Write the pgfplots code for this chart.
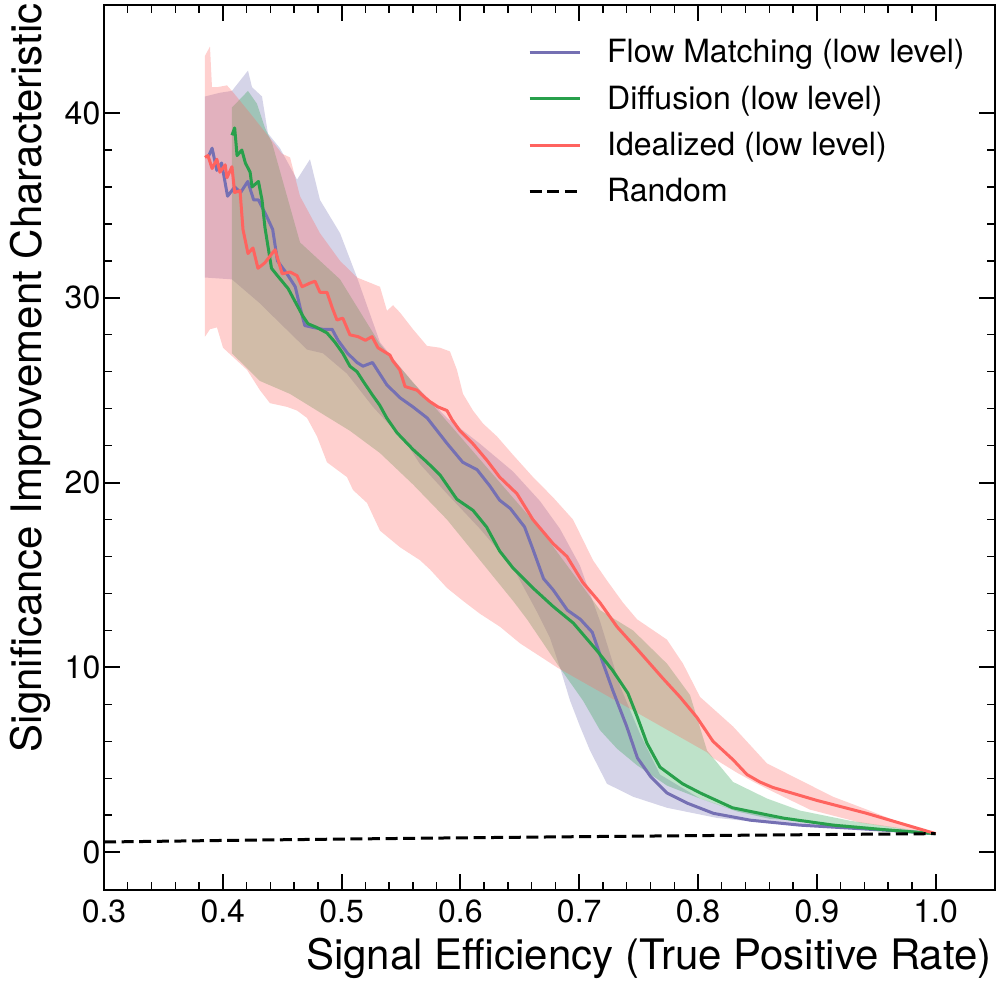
\documentclass[border=0pt]{standalone}
\usepackage{fontspec}
\setmainfont{TeX Gyre Heros}
\usepackage{pgfplots}
\pgfplotsset{compat=1.18}
\definecolor{fmc}{RGB}{117,112,179}
\definecolor{dfc}{RGB}{40,160,75}
\definecolor{idc}{RGB}{255,99,95}
\begin{document}
\begin{tikzpicture}
\begin{axis}[
 scale only axis, width=445.5pt, height=442.5pt,
 xmin=0.3, xmax=1.05, ymin=-2.05, ymax=45.85,
 xtick={0.3,0.4,0.5,0.6,0.7,0.8,0.9,1.0},
 xticklabels={0.3,0.4,0.5,0.6,0.7,0.8,0.9,1.0},
 ytick={0,10,20,30,40}, yticklabels={0,10,20,30,40},
 minor x tick num=4, minor y tick num=4,
 tick align=inside, tick pos=both,
 major tick length=8pt, minor tick length=4pt,
 major tick style={line width=1pt,black},
 minor tick style={line width=0.7pt,black},
 axis line style={line width=1.4pt},
 tick label style={font=\fontsize{16}{19}\selectfont},
 yticklabel style={xshift=1.7pt},
 xticklabel style={yshift=-1.2pt},
 label style={font=\fontsize{21}{25}\selectfont},
 xlabel={Signal Efficiency (True Positive Rate)},
 ylabel={Significance Improvement Characteristic},
 xlabel style={at={(ticklabel cs:1)}, anchor=north east, inner xsep=0pt, xshift=-1.5pt, yshift=-1pt},
 ylabel style={at={(ticklabel cs:1)}, anchor=south east, inner xsep=0pt, xshift=1pt},
 legend style={draw=none, fill=none, at={(rel axis cs:1,1)}, anchor=north east, xshift=-13pt, yshift=-15pt, font=\fontsize{16}{19}\selectfont, row sep=6pt, inner sep=0pt},
 legend cell align=left,
 legend image code/.code={\draw[#1] (0pt,0pt) -- (25pt,0pt); \path (36pt,0pt);},
]
% ---- bands ----
\addplot[forget plot, draw=none, fill=fmc, fill opacity=0.3] coordinates {
(0.385,40.9)(0.3976,41.1)(0.4077,41.2)(0.4212,42.3)(0.4246,41.4)(0.433,40.9)(0.438,38.9)(0.4481,38.1)(0.4625,36.4)(0.4734,37.5)(0.4818,35.3)(0.4987,33.5)(0.513,31.1)(0.5323,27.6)(0.5601,25.4)(0.5887,23.5)(0.6165,22.1)(0.6443,20.6)(0.667,19.0)(0.6838,17.5)(0.7007,15.5)(0.7175,12.5)(0.7343,9.0)(0.7512,6.4)(0.768,4.2)(0.8017,2.9)(0.8295,2.3)(0.8859,1.7)(0.9423,1.38)(1.0,1.0)
(0.9136,1.3)(0.8581,1.57)(0.816,1.85)(0.7739,2.4)(0.7453,3.0)(0.7234,3.7)(0.7091,5.5)(0.7007,6.8)(0.6923,8.2)(0.6838,10.0)(0.6754,11.6)(0.6645,13.0)(0.6443,15.4)(0.6165,17.5)(0.5887,19.4)(0.566,21.0)(0.555,22.1)(0.5264,24.1)(0.5045,25.9)(0.4843,27.0)(0.4709,27.2)(0.4566,28.1)(0.4423,29.0)(0.4313,29.7)(0.4204,30.3)(0.4077,31.0)(0.385,31.1)};
\addplot[forget plot, draw=none, fill=dfc, fill opacity=0.3] coordinates {
(0.4077,40.3)(0.4212,41.2)(0.4288,40.5)(0.4355,39.2)(0.4414,38.4)(0.465,33.0)(0.4987,31.0)(0.5323,27.5)(0.566,25.0)(0.5997,22.5)(0.6333,20.0)(0.667,17.5)(0.7175,13.1)(0.7453,12.0)(0.7739,10.2)(0.7933,8.5)(0.8076,5.5)(0.8295,3.8)(0.8581,2.9)(0.8859,2.25)(0.9279,1.7)(0.97,1.3)(1.0,1.0)
(0.9423,1.35)(0.8859,1.7)(0.8606,1.8)(0.8328,2.2)(0.8017,2.9)(0.7739,3.6)(0.7487,4.7)(0.7318,5.6)(0.7175,6.6)(0.7032,8.2)(0.6813,10.2)(0.6561,12.6)(0.6443,13.6)(0.6165,15.8)(0.5887,18.0)(0.5601,19.9)(0.5323,21.6)(0.5071,22.8)(0.4818,23.8)(0.4566,24.8)(0.4313,25.5)(0.4077,27.0)};
\addplot[forget plot, draw=none, fill=idc, fill opacity=0.3] coordinates {
(0.385,43.1)(0.3892,43.6)(0.3909,41.4)(0.3951,41.4)(0.4035,41.5)(0.4077,41.2)(0.4229,40.0)(0.4439,38.3)(0.4498,37.8)(0.4566,37.6)(0.465,35.5)(0.4818,33.5)(0.4987,32.0)(0.513,31.1)(0.5323,30.6)(0.5382,29.3)(0.5433,29.6)(0.5492,29.2)(0.5601,28.3)(0.5719,27.4)(0.5828,27.3)(0.5912,27.1)(0.5971,26.1)(0.6022,24.8)(0.6106,23.9)(0.619,23.2)(0.6308,22.5)(0.6443,21.5)(0.6611,20.3)(0.678,19.2)(0.6948,18.0)(0.7116,15.8)(0.7234,14.7)(0.7369,13.5)(0.7487,12.6)(0.7739,11.5)(0.7874,10.2)(0.8017,8.4)(0.8295,6.8)(0.8581,4.8)(0.8859,3.9)(0.9136,3.0)(0.9423,2.3)(0.97,1.6)(1.0,1.0)
(0.9785,1.2)(0.9364,1.6)(0.8943,2.3)(0.8606,3.35)(0.8497,3.7)(0.8328,4.3)(0.8126,5.1)(0.8076,5.4)(0.6813,10.0)(0.667,10.6)(0.6502,11.3)(0.6333,12.2)(0.6165,12.9)(0.6022,13.6)(0.5887,14.3)(0.5744,15.3)(0.566,15.8)(0.5492,16.5)(0.5323,17.4)(0.5214,18.9)(0.5096,19.6)(0.5045,20.3)(0.4877,21.1)(0.4793,22.5)(0.4709,23.5)(0.4625,23.9)(0.454,24.1)(0.4397,24.3)(0.4313,25.0)(0.4204,26.1)(0.4086,26.8)(0.4002,27.3)(0.3951,28.4)(0.3892,28.3)(0.385,27.9)};
% ---- lines ----
\addplot[fmc, line width=1.5pt, line join=round] coordinates {
(0.3875,37.6)(0.391,38.1)(0.395,36.9)(0.399,37.3)(0.404,35.5)(0.410,36.0)(0.415,35.7)(0.421,36.3)(0.426,35.3)(0.430,35.3)(0.437,34.4)(0.442,33.7)(0.446,32.0)(0.454,31.3)(0.461,30.6)(0.465,29.5)(0.469,28.5)(0.476,28.4)(0.484,28.3)(0.492,28.3)(0.497,27.7)(0.505,27.0)(0.513,26.5)(0.518,26.3)(0.526,26.5)(0.532,25.9)(0.538,25.3)(0.549,24.6)(0.560,24.1)(0.572,23.5)(0.589,22.1)(0.602,21.1)(0.614,20.7)(0.625,19.8)(0.633,19.05)(0.642,18.6)(0.654,17.6)(0.661,16.4)(0.670,14.8)(0.678,14.2)(0.690,13.1)(0.701,12.6)(0.711,11.9)(0.718,10.6)(0.728,8.8)(0.740,6.8)(0.749,5.1)(0.760,4.1)(0.774,3.2)(0.791,2.65)(0.813,2.1)(0.844,1.73)(0.886,1.46)(0.928,1.3)(0.970,1.14)(1.0,1.0)};
\addlegendentry{Flow Matching (low level)}
\addplot[dfc, line width=1.5pt, line join=round] coordinates {
(0.4077,38.8)(0.410,39.2)(0.412,37.7)(0.416,38.0)(0.419,37.3)(0.423,36.8)(0.4246,36.0)(0.430,36.3)(0.433,35.3)(0.4355,33.8)(0.438,32.8)(0.441,31.6)(0.446,31.2)(0.455,30.5)(0.4625,29.6)(0.4675,29.0)(0.4717,28.6)(0.479,28.4)(0.4877,28.1)(0.4944,27.6)(0.501,27.0)(0.507,26.3)(0.513,26.0)(0.518,25.5)(0.5264,24.7)(0.532,24.2)(0.538,23.5)(0.5466,22.7)(0.560,21.8)(0.572,21.1)(0.583,20.4)(0.597,19.1)(0.6106,18.5)(0.622,17.6)(0.633,16.3)(0.644,15.4)(0.661,14.3)(0.678,13.3)(0.695,12.4)(0.715,10.9)(0.728,9.85)(0.741,8.6)(0.749,7.3)(0.757,5.9)(0.768,4.6)(0.787,3.7)(0.802,3.2)(0.829,2.4)(0.872,1.84)(0.914,1.46)(0.956,1.22)(1.0,1.0)};
\addlegendentry{Diffusion (low level)}
\addplot[idc, line width=1.5pt, line join=round] coordinates {
(0.385,37.6)(0.3875,37.7)(0.391,37.0)(0.395,37.5)(0.3976,36.8)(0.402,37.2)(0.4035,36.5)(0.4077,37.1)(0.410,35.7)(0.4145,35.8)(0.417,33.7)(0.4212,32.4)(0.4254,32.7)(0.4296,31.6)(0.4355,31.9)(0.4414,32.4)(0.444,32.6)(0.450,31.3)(0.4566,31.4)(0.4625,31.2)(0.4667,30.6)(0.4734,30.8)(0.4776,30.9)(0.4818,30.3)(0.4877,30.3)(0.4919,29.5)(0.4961,28.8)(0.501,28.9)(0.507,28.0)(0.5138,27.9)(0.520,27.7)(0.5256,27.9)(0.5306,27.3)(0.5407,26.9)(0.543,26.6)(0.549,26.1)(0.5534,25.2)(0.5635,25.0)(0.5685,24.7)(0.574,24.4)(0.581,24.1)(0.5887,23.9)(0.593,23.4)(0.5997,22.8)(0.6106,22.1)(0.6224,21.2)(0.633,20.3)(0.6476,19.4)(0.661,18.0)(0.678,16.7)(0.6897,16.0)(0.703,14.6)(0.7175,13.5)(0.7318,12.2)(0.7486,11.0)(0.7705,9.4)(0.7848,8.4)(0.799,7.3)(0.8126,6.0)(0.8295,5.0)(0.8412,4.2)(0.852,3.8)(0.863,3.5)(0.9,2.8)(0.942,2.1)(0.97,1.57)(1.0,1.0)};
\addlegendentry{Idealized (low level)}
\addplot[black, line width=1.5pt, dash pattern=on 6pt off 2.8pt] coordinates {
(0.3,0.5477)(0.4,0.6325)(0.5,0.7071)(0.6,0.7746)(0.7,0.8367)(0.8,0.8944)(0.9,0.9487)(1.0,1.0)};
\addlegendentry{Random}
\coordinate (ll) at (rel axis cs:0,0);
\coordinate (ur) at (rel axis cs:1,1);
\end{axis}
\pgfresetboundingbox
\path[use as bounding box] ([shift={(-52pt,-45.5pt)}]ll) rectangle ([shift={(2pt,2.5pt)}]ur);
\end{tikzpicture}
\end{document}
